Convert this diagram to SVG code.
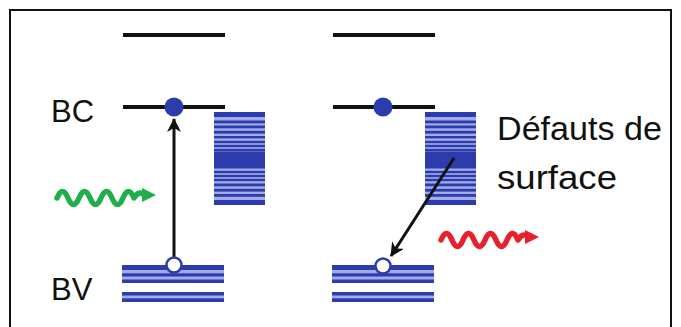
<svg xmlns="http://www.w3.org/2000/svg" width="681" height="327" viewBox="0 0 681 327">
<defs>
<style>
.lvl{stroke:#111;stroke-width:4;fill:none}
.dk{fill:#2d3cab}
.lt{fill:#a3ace9}
.lbl{font-family:"Liberation Sans",Arial,sans-serif;font-size:31px;fill:#111}
.arr{stroke:#111;stroke-width:3;fill:none}
.wave{fill:none;stroke-width:5.5;stroke-linecap:round;stroke-linejoin:round}
</style>
<marker id="ah" viewBox="0 0 14 14" refX="13" refY="7" markerWidth="14" markerHeight="14" markerUnits="userSpaceOnUse" orient="auto">
<path d="M0,0 L14,7 L0,14 L4,7 Z" fill="#111"/>
</marker>
<g id="cb">
<rect x="0" y="0" width="51" height="93" class="lt"/>
<rect x="0" y="0" width="51" height="5" class="dk"/>
<rect x="0" y="8.5" width="51" height="2.8" class="dk"/>
<rect x="0" y="13.5" width="51" height="2.8" class="dk"/>
<rect x="0" y="18.8" width="51" height="2.8" class="dk"/>
<rect x="0" y="24" width="51" height="2.4" class="dk"/>
<rect x="0" y="28.8" width="51" height="2.4" class="dk"/>
<rect x="0" y="32.8" width="51" height="2.4" class="dk"/>
<rect x="0" y="36.8" width="51" height="2.4" class="dk"/>
<rect x="0" y="39.5" width="51" height="17" class="dk"/>
<rect x="0" y="58.8" width="51" height="2.4" class="dk"/>
<rect x="0" y="62.8" width="51" height="2.4" class="dk"/>
<rect x="0" y="66.8" width="51" height="2.4" class="dk"/>
<rect x="0" y="71.5" width="51" height="2.8" class="dk"/>
<rect x="0" y="76.8" width="51" height="2.8" class="dk"/>
<rect x="0" y="82" width="51" height="2.8" class="dk"/>
<rect x="0" y="88" width="51" height="5" class="dk"/>
</g>
<g id="vb">
<rect x="0" y="0" width="102" height="18" class="lt"/>
<rect x="0" y="0" width="102" height="5" class="dk"/>
<rect x="0" y="8.3" width="102" height="3.2" class="dk"/>
<rect x="0" y="14.5" width="102" height="3.5" class="dk"/>
<rect x="0" y="27" width="102" height="10" class="lt"/>
<rect x="0" y="27" width="102" height="3.5" class="dk"/>
<rect x="0" y="33.3" width="102" height="3.7" class="dk"/>
</g>
</defs>
<rect x="0" y="0" width="681" height="327" fill="#fff"/>
<rect x="10" y="10" width="661" height="330" fill="none" stroke="#111" stroke-width="2"/>

<g id="left-diagram">
<line x1="123" y1="35" x2="225" y2="35" class="lvl"/>
<line x1="123" y1="107" x2="225" y2="107" class="lvl"/>
<use href="#cb" x="214" y="112"/>
<use href="#vb" x="122" y="265"/>
</g>

<g id="right-diagram">
<line x1="333" y1="35" x2="435" y2="35" class="lvl"/>
<line x1="333" y1="107" x2="435" y2="107" class="lvl"/>
<use href="#cb" x="425" y="112"/>
<use href="#vb" x="332" y="265"/>
</g>

<g id="connectors">
<line x1="174" y1="258" x2="174" y2="119" class="arr" marker-end="url(#ah)"/>
<line x1="454" y1="158" x2="391" y2="256" class="arr" marker-end="url(#ah)"/>
</g>

<g id="electron-left"><circle cx="174" cy="107" r="9.5" fill="#2d3cab"/></g>
<g id="hole-left"><circle cx="174" cy="265" r="7.5" fill="#fff" stroke="#2d3cab" stroke-width="2.5"/></g>
<g id="electron-right"><circle cx="383" cy="107" r="9.5" fill="#2d3cab"/></g>
<g id="hole-right"><circle cx="383" cy="266" r="7.5" fill="#fff" stroke="#2d3cab" stroke-width="2.5"/></g>

<g id="photon-in">
<path d="M57,198 q5.5,-13 11,0 t11,0 t11,0 t11,0 t11,0 t11,0 t11,0 q5,-8 10,-3 L146,195" class="wave" stroke="#1fae4a"/>
<path d="M142,188 L156,195 L142,202 Z" fill="#1fae4a"/>
</g>
<g id="photon-out">
<path d="M441,240 q5.5,-13 11,0 t11,0 t11,0 t11,0 t11,0 t11,0 t11,0 q5,-8 10,-3 L529,237" class="wave" stroke="#e8202a"/>
<path d="M525,230 L539,237 L525,244 Z" fill="#e8202a"/>
</g>

<g id="labels">
<text x="51" y="122" class="lbl">BC</text>
<text x="51" y="300" class="lbl">BV</text>
<text x="497" y="140" class="lbl" style="font-size:33px" textLength="165" lengthAdjust="spacingAndGlyphs">Défauts de</text>
<text x="497" y="189" class="lbl" style="font-size:33px" textLength="120" lengthAdjust="spacingAndGlyphs">surface</text>
</g>
</svg>
